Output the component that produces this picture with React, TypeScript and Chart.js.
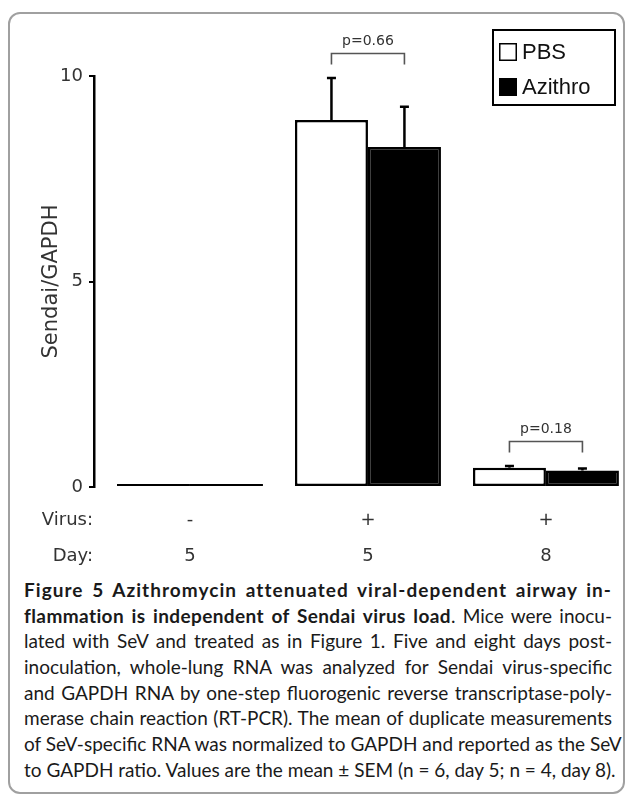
import React, { useEffect, useRef } from 'react';
import { Chart, registerables } from 'chart.js';

Chart.register(...registerables);

// ---- data ----
const groupPositions = [0, 1, 2];
const virusLabels = ['-', '+', '+'];
const dayLabels = ['5', '5', '8'];
const rowTitles = ['Virus:', 'Day:'];
const seriesNames = ['PBS', 'Azithro'];
const pbsMeans = [0.07, 8.93, 0.47];
const pbsSem = [0, 1.02, 0.04];
const azithroMeans = [0.07, 8.27, 0.4];
const azithroSem = [0, 0.98, 0.05];
const yTicks = [0, 5, 10];
const pGroups = [1, 2];
const pLabels = ['p=0.66', 'p=0.18'];
const yTitle = 'Sendai/GAPDH';

const semSets = [pbsSem, azithroSem];
const meanSets = [pbsMeans, azithroMeans];
const fills = ['#ffffff', '#000000'];

const TICK_FONT = { family: 'DejaVu Sans', size: 18, lineHeight: 2 };
const X_PAD = 15;

const errorBarPlugin = {
  id: 'errorBars',
  afterDatasetsDraw(chart: any) {
    const ctx = chart.ctx;
    const y = chart.scales.y;
    ctx.save();
    ctx.strokeStyle = '#000';
    ctx.lineWidth = 2.5;
    chart.data.datasets.forEach((ds: any, di: number) => {
      const meta = chart.getDatasetMeta(di);
      meta.data.forEach((bar: any, i: number) => {
        const e = semSets[di][i];
        if (!e) return;
        const top = y.getPixelForValue(meanSets[di][i] + e);
        ctx.beginPath();
        ctx.moveTo(bar.x, bar.y);
        ctx.lineTo(bar.x, top);
        ctx.moveTo(bar.x - 4.5, top);
        ctx.lineTo(bar.x + 4.5, top);
        ctx.stroke();
      });
    });
    ctx.restore();
  },
};

const bracketPlugin = {
  id: 'brackets',
  afterDraw(chart: any) {
    const ctx = chart.ctx;
    const y = chart.scales.y;
    const m0 = chart.getDatasetMeta(0);
    const m1 = chart.getDatasetMeta(1);
    ctx.save();
    pGroups.forEach((g, k) => {
      const x1 = m0.data[g].x;
      const x2 = m1.data[g].x;
      const topVal = Math.max(pbsMeans[g] + pbsSem[g], azithroMeans[g] + azithroSem[g]);
      const yTop = Math.round(y.getPixelForValue(topVal) - 25) + 0.5;
      ctx.strokeStyle = '#555';
      ctx.lineWidth = 1.6;
      ctx.beginPath();
      ctx.moveTo(x1, yTop + 11);
      ctx.lineTo(x1, yTop);
      ctx.lineTo(x2, yTop);
      ctx.lineTo(x2, yTop + 11);
      ctx.stroke();
      ctx.fillStyle = '#333';
      ctx.font = '14px "DejaVu Sans"';
      ctx.textAlign = 'center';
      ctx.textBaseline = 'middle';
      ctx.fillText(pLabels[k], (x1 + x2) / 2, yTop - 12);
    });
    ctx.restore();
  },
};

const legendPlugin = {
  id: 'boxLegend',
  afterDraw(chart: any) {
    const ctx = chart.ctx;
    ctx.save();
    ctx.strokeStyle = '#000';
    ctx.lineWidth = 2;
    ctx.strokeRect(493, 30, 122, 75);
    seriesNames.forEach((name, i) => {
      const cy = 52 + i * 35;
      ctx.fillStyle = fills[i];
      ctx.fillRect(499, cy - 9, 18, 18);
      ctx.lineWidth = 1.5;
      ctx.strokeRect(499.75, cy - 8.25, 16.5, 16.5);
      ctx.fillStyle = '#111';
      ctx.font = '22px "Liberation Sans"';
      ctx.textAlign = 'left';
      ctx.textBaseline = 'middle';
      ctx.fillText(name, 522, cy + 1);
    });
    ctx.restore();
  },
};

const rowTitlePlugin = {
  id: 'rowTitles',
  afterDraw(chart: any) {
    const ctx = chart.ctx;
    const xs = chart.scales.x;
    const lh = TICK_FONT.size * TICK_FONT.lineHeight;
    ctx.save();
    ctx.fillStyle = '#333';
    ctx.font = `${TICK_FONT.size}px "DejaVu Sans"`;
    ctx.textAlign = 'right';
    ctx.textBaseline = 'middle';
    rowTitles.forEach((t, i) => {
      ctx.fillText(t, 93, xs.top + X_PAD + lh / 2 + i * lh);
    });
    ctx.restore();
  },
};

const captionLines: { t: string; b?: boolean; ls?: number }[][] = [
  [{ t: 'Figure 5 Azithromycin attenuated viral-dependent airway in-', b: true, ls: 1.05 }],
  [{ t: 'flammation is independent of Sendai virus load', b: true, ls: 0.4 }, { t: '. Mice were inocu-' }],
  [{ t: 'lated with SeV and treated as in Figure 1. Five and eight days post-' }],
  [{ t: 'inoculation, whole-lung RNA was analyzed for Sendai virus-specific' }],
  [{ t: 'and GAPDH RNA by one-step fluorogenic reverse transcriptase-poly-' }],
  [{ t: 'merase chain reaction (RT-PCR). The mean of duplicate measurements' }],
  [{ t: 'of SeV-specific RNA was normalized to GAPDH and reported as the SeV' }],
  [{ t: 'to GAPDH ratio. Values are the mean \u00b1 SEM (n = 6, day 5; n = 4, day 8).' }],
];

export default function App() {
  const ref = useRef<HTMLCanvasElement | null>(null);

  useEffect(() => {
    if (!ref.current) return;
    const chart = new Chart(ref.current, {
      type: 'bar',
      data: {
        datasets: [
          {
            label: seriesNames[0],
            data: groupPositions.map((x, i) => ({ x, y: pbsMeans[i] })),
            backgroundColor: fills[0],
            borderColor: '#000',
            borderWidth: 2.5,
            borderSkipped: false,
          },
          {
            label: seriesNames[1],
            data: groupPositions.map((x, i) => ({ x, y: azithroMeans[i] })),
            backgroundColor: fills[1],
            borderColor: '#000',
            borderWidth: 2.5,
            borderSkipped: false,
          },
        ],
      } as any,
      options: {
        animation: false,
        responsive: false,
        maintainAspectRatio: false,
        layout: { padding: { top: 76, right: 0, bottom: 0, left: 0 } },
        plugins: { legend: { display: false }, tooltip: { enabled: false } },
        datasets: { bar: { categoryPercentage: 0.82, barPercentage: 1 } },
        scales: {
          x: {
            type: 'linear',
            offset: false,
            min: -0.539,
            max: 2.461,
            grid: { display: false, drawTicks: false },
            border: { display: false },
            afterBuildTicks: (s: any) => {
              s.ticks = groupPositions.map((v) => ({ value: v }));
            },
            afterFit: (s: any) => {
              s.height = 83;
            },
            ticks: {
              autoSkip: false,
              maxRotation: 0,
              padding: X_PAD,
              color: '#333',
              font: TICK_FONT,
              callback: (v: any) => [virusLabels[v], dayLabels[v]],
            },
          },
          y: {
            min: 0,
            max: 10,
            afterBuildTicks: (s: any) => {
              s.ticks = yTicks.map((v) => ({ value: v }));
            },
            afterFit: (s: any) => {
              s.width = 94;
            },
            grid: { drawOnChartArea: false, drawTicks: true, tickLength: 5, color: '#000', lineWidth: 2 },
            border: { display: true, color: '#000', width: 2.5 },
            ticks: { padding: 6, color: '#333', font: { family: 'DejaVu Sans', size: 18 } },
            title: {
              display: true,
              text: yTitle,
              color: '#333',
              font: { family: 'DejaVu Sans', size: 21 },
              padding: { top: 39, bottom: 0 },
            },
          },
        },
      } as any,
      plugins: [errorBarPlugin, bracketPlugin, legendPlugin, rowTitlePlugin],
    });
    return () => chart.destroy();
  }, []);

  return (
    <div style={{ position: 'absolute', left: 0, top: 0, width: 628, height: 798, background: '#fff', overflow: 'hidden' }}>
      <div
        style={{
          position: 'absolute',
          left: 8,
          top: 12,
          width: 617,
          height: 782,
          border: '2px solid #a0a0a0',
          borderRadius: 12,
          boxSizing: 'border-box',
        }}
      />
      <canvas ref={ref} width={628} height={570} style={{ position: 'absolute', left: 0, top: 0, width: 628, height: 570 }} />
      <div
        style={{
          position: 'absolute',
          left: 24,
          top: 577,
          width: 588,
          fontFamily: 'Lato, "Open Sans", sans-serif',
          fontSize: 19,
          color: '#1a1a1a',
        }}
      >
        {captionLines.map((line, i) => (
          <div
            key={i}
            style={{
              height: 25.7,
              lineHeight: '25.7px',
              whiteSpace: 'nowrap',
              textAlign: 'justify',
              textAlignLast: 'justify' as any,
            }}
          >
            {line.map((seg, j) => (
              <span key={j} style={{ fontWeight: seg.b ? 700 : 400, letterSpacing: seg.ls ? `${seg.ls}px` : undefined }}>
                {seg.t}
              </span>
            ))}
          </div>
        ))}
      </div>
    </div>
  );
}
